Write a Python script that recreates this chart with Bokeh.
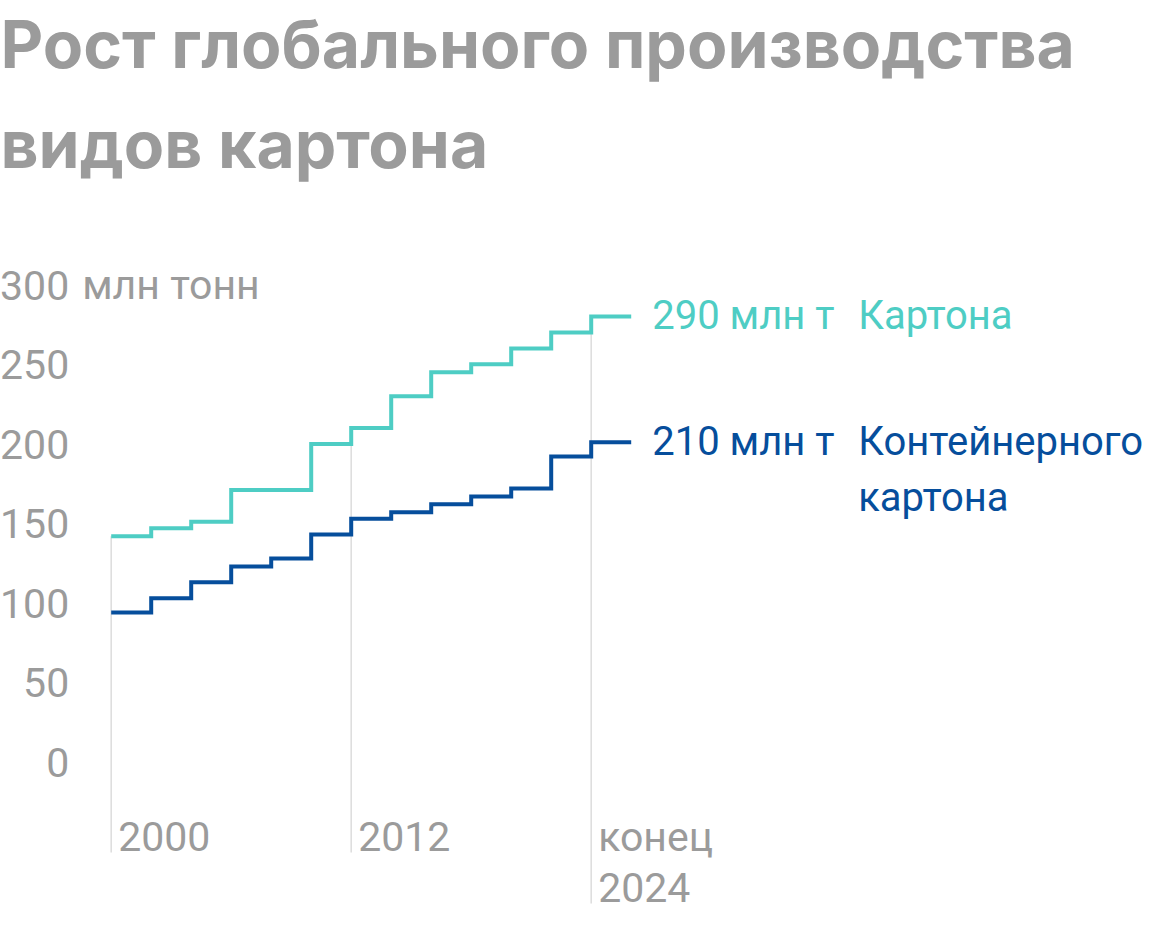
from bokeh.plotting import figure
from bokeh.models import Range1d, ColumnDataSource
from bokeh.core.properties import value
from bokeh.embed import file_html
from bokeh.resources import INLINE

# ---------------- data ----------------
years = [2000, 2002, 2004, 2006, 2008, 2010, 2012, 2014, 2016, 2018, 2020, 2022, 2024]
end_year = 2026
karton = [152, 157, 161, 181, 181, 210, 220, 240, 255, 260, 270, 280, 290]
container = [104, 113, 123, 133, 138, 153, 163, 167, 172, 177, 182, 202, 211]

y_ticks = [0, 50, 100, 150, 200, 250, 300]
y_tick_labels = ["0", "50", "100", "150", "200", "250", "300"]
y_unit = "млн тонн"

x_ticks = [2000, 2012, 2024]
x_tick_labels = ["2000", "2012", "конец\n2024"]

title_lines = ["Рост глобального производства", "видов картона"]
karton_value_label = "290 млн т"
karton_name = ["Картона"]
container_value_label = "210 млн т"
container_name = ["Контейнерного", "картона"]

# ---------------- styling / layout ----------------
TEAL = "#4ECDC4"
BLUE = "#064E9C"
GREY = "#9B9B9B"
GRIDC = "#DEDEDE"
FONT = "Roboto"
TITLE_FONT = "Inter"
FS_TICK = 41
FS_LAB = 40
FS_TITLE = 66
BASE_FIX = 0.38   # empirical baseline correction (fraction of font size)

W, H = 1144, 912
PX_YEAR = 20.0
PX_UNIT = 1.591
X0_REF = 112.7
Y0_REF = 780.5
SHIFT_X, SHIFT_Y = 2, 3

x_start = years[0] - (X0_REF - SHIFT_X) / PX_YEAR
x_end = x_start + W / PX_YEAR
y_top = (Y0_REF - SHIFT_Y) / PX_UNIT
y_bot = y_top - H / PX_UNIT


def dx(ref_px):
    return x_start + (ref_px - SHIFT_X) / PX_YEAR


def dy(ref_px):
    return y_top - (ref_px - SHIFT_Y) / PX_UNIT


def fix(fs):
    return -BASE_FIX * fs


p = figure(width=W, height=H, x_range=Range1d(x_start, x_end), y_range=Range1d(y_bot, y_top),
           output_backend="svg", toolbar_location=None, x_axis_type=None, y_axis_type=None,
           min_border=0, min_border_left=0, min_border_right=0, min_border_top=0, min_border_bottom=0)
p.grid.visible = False
p.outline_line_color = None
p.background_fill_color = "white"
p.border_fill_color = "white"

# vertical marker lines at x ticks
LINE_GAP = 51
LABEL_DROP = 74.5
seg_x, seg_top, seg_bot = [], [], []
for t, lab in zip(x_ticks, x_tick_labels):
    i = years.index(t)
    seg_x.append(t)
    seg_top.append(karton[max(i - 1, 0)])
    n = len(lab.split("\n"))
    seg_bot.append(-(LABEL_DROP + LINE_GAP * (n - 1)) / PX_UNIT)
p.segment(x0=seg_x, y0=seg_top, x1=seg_x, y1=seg_bot, line_color=GRIDC, line_width=1.6)

# step lines
p.step(x=years + [end_year], y=karton + [karton[-1]], mode="after",
       line_color=TEAL, line_width=4, line_join="miter")
p.step(x=years + [end_year], y=container + [container[-1]], mode="after",
       line_color=BLUE, line_width=4, line_join="miter")

# y tick labels
p.text(x=[years[0]] * len(y_ticks), y=y_ticks, text=y_tick_labels, x_offset=-42,
       y_offset=fix(FS_TICK),
       text_align="right", text_baseline="alphabetic", text_font=value(FONT),
       text_font_size=f"{FS_TICK}px", text_color=GREY)
p.text(x=[years[0]], y=[y_ticks[-1]], text=[y_unit], x_offset=-29, y_offset=fix(FS_TICK),
       text_align="left", text_baseline="alphabetic", text_font=value(FONT),
       text_font_size=f"{FS_TICK}px", text_color=GREY)

# x tick labels (multi-line split)
xl_x, xl_t, xl_off = [], [], []
for t, lab in zip(x_ticks, x_tick_labels):
    for k, line in enumerate(lab.split("\n")):
        xl_x.append(t)
        xl_t.append(line)
        xl_off.append(LABEL_DROP + LINE_GAP * k + fix(FS_TICK))
src_xl = ColumnDataSource(dict(x=xl_x, y=[0] * len(xl_x), text=xl_t, yo=xl_off))
p.text(x="x", y="y", text="text", y_offset="yo", x_offset=7, source=src_xl,
       text_align="left", text_baseline="alphabetic", text_font=value(FONT),
       text_font_size=f"{FS_TICK}px", text_color=GREY)


# end labels
def end_labels(val_label, names, last, color):
    p.text(x=[end_year], y=[last], text=[val_label], x_offset=21, y_offset=14 + fix(FS_LAB),
           text_align="left", text_baseline="alphabetic", text_font=value(FONT),
           text_font_size=f"{FS_LAB}px", text_color=color)
    src = ColumnDataSource(dict(x=[end_year] * len(names), y=[last] * len(names), text=names,
                                yo=[14 + 56 * k + fix(FS_LAB) for k in range(len(names))]))
    p.text(x="x", y="y", text="text", y_offset="yo", x_offset=227, source=src,
           text_align="left", text_baseline="alphabetic", text_font=value(FONT),
           text_font_size=f"{FS_LAB}px", text_color=color)


end_labels(karton_value_label, karton_name, karton[-1], TEAL)
end_labels(container_value_label, container_name, container[-1], BLUE)

# title
p.text(x=[dx(SHIFT_X)] * 2, y=[dy(71.7), dy(171.7)], text=title_lines,
       y_offset=fix(FS_TITLE),
       text_align="left", text_baseline="alphabetic", text_font=value(TITLE_FONT),
       text_font_style="bold", text_font_size=f"{FS_TITLE}px", text_color=GREY)

open("out.html", "w").write(file_html(p, INLINE))
